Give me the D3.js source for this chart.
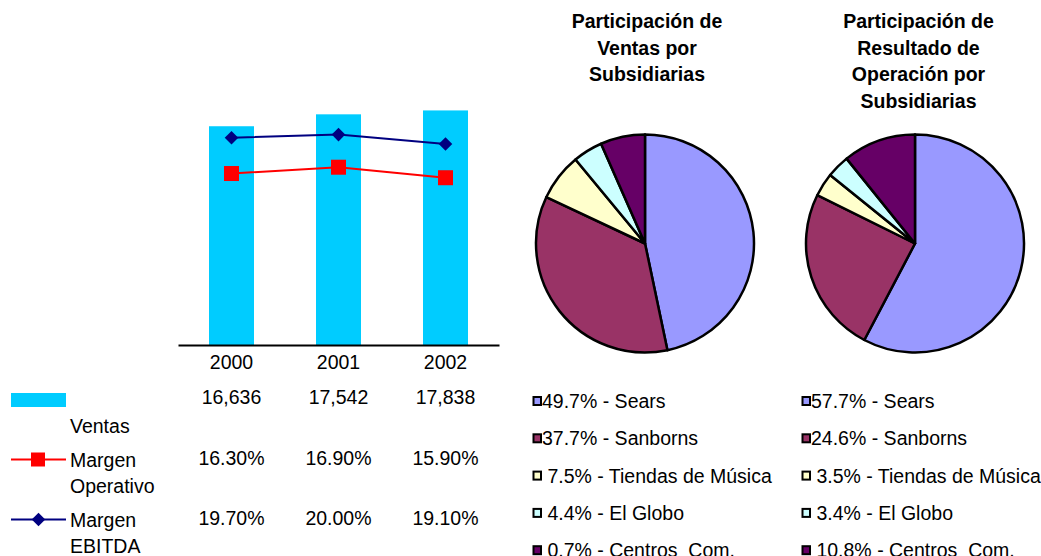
<!DOCTYPE html>
<html>
<head>
<meta charset="utf-8">
<script src="https://cdn.jsdelivr.net/npm/d3@7"></script>
<style>
  body { margin: 0; background: #fff; }
  svg text { font-family: "Liberation Sans", Arial, sans-serif; font-size: 19.5px; fill: #000; }
</style>
</head>
<body>
<div id="chart"></div>
<script>
// combo chart data
var years = ["2000", "2001", "2002"];
var ventas = [16636, 17542, 17838];
var margenOperativo = [16.3, 16.9, 15.9];
var margenEbitda = [19.7, 20.0, 19.1];
var ventasText = ["16,636", "17,542", "17,838"];
var operText = ["16.30%", "16.90%", "15.90%"];
var ebitdaText = ["19.70%", "20.00%", "19.10%"];

// pies
var subsidiarias = ["Sears", "Sanborns", "Tiendas de Música", "El Globo", "Centros  Com."];
var pieColors = ["#9999ff", "#993366", "#ffffcc", "#ccffff", "#660066"];
var ventasSlices = [46.7, 35.3, 7.0, 4.4, 6.6];      // as drawn
var ventasPct = ["49.7%", "37.7%", " 7.5%", " 4.4%", " 0.7%"];
var operSlices = [57.7, 24.6, 3.5, 3.4, 10.8];
var operPct = ["57.7%", "24.6%", " 3.5%", " 3.4%", " 10.8%"];

var svg = d3.select("#chart").append("svg")
    .attr("width", 1041)
    .attr("height", 556);

var x = d3.scaleBand().domain(years).range([178, 499]);
var cx = function(d) { return x(d) + x.bandwidth() / 2; };
var yBar = d3.scaleLinear().domain([0, 20000]).range([345, 82]);
var yPct = d3.scaleLinear().domain([0, 25]).range([345, 82]);
var barW = 45;

svg.append("g").selectAll("rect")
    .data(years)
    .enter().append("rect")
    .attr("x", function(d) { return cx(d) - barW / 2; })
    .attr("width", barW)
    .attr("y", function(d, i) { return yBar(ventas[i]); })
    .attr("height", function(d, i) { return yBar(0) - yBar(ventas[i]); })
    .attr("fill", "#00ccff");

var xAxis = d3.axisBottom(x).tickSize(0).tickSizeOuter(0);
var gx = svg.append("g")
    .attr("transform", "translate(0,345)")
    .call(xAxis);
gx.select(".domain").attr("stroke", "#000").attr("stroke-width", 2);
gx.selectAll("text")
    .attr("y", 24).attr("dy", 0)
    .style("font-size", "19.5px")
    .style("font-family", "'Liberation Sans', Arial, sans-serif")
    .attr("fill", "#000");

var line = d3.line()
    .x(function(d, i) { return cx(years[i]); })
    .y(function(d) { return yPct(d); });

svg.append("path").datum(margenOperativo)
    .attr("d", line).attr("fill", "none")
    .attr("stroke", "#ff0000").attr("stroke-width", 2);
svg.append("path").datum(margenEbitda)
    .attr("d", line).attr("fill", "none")
    .attr("stroke", "#000080").attr("stroke-width", 2);

var sq = 15;
svg.append("g").selectAll("rect")
    .data(margenOperativo)
    .enter().append("rect")
    .attr("x", function(d, i) { return cx(years[i]) - sq / 2; })
    .attr("y", function(d) { return yPct(d) - sq / 2; })
    .attr("width", sq).attr("height", sq)
    .attr("fill", "#ff0000");

var diamond = d3.symbol().type(d3.symbolSquare).size(92);
svg.append("g").selectAll("path")
    .data(margenEbitda)
    .enter().append("path")
    .attr("d", diamond)
    .attr("transform", function(d, i) {
        return "translate(" + cx(years[i]) + "," + yPct(d) + ") rotate(45)";
    })
    .attr("fill", "#000080");

// data table under the bars
var table = svg.append("g");
function rowValues(vals, base) {
    table.selectAll(null)
        .data(vals)
        .enter().append("text")
        .attr("x", function(d, i) { return cx(years[i]); })
        .attr("y", base)
        .attr("text-anchor", "middle")
        .text(function(d) { return d; });
}
rowValues(ventasText, 404);
rowValues(operText, 465);
rowValues(ebitdaText, 525);

table.append("rect").attr("x", 11).attr("y", 393).attr("width", 55).attr("height", 14).attr("fill", "#00ccff");
table.append("text").attr("x", 70).attr("y", 433).text("Ventas");

table.append("line").attr("x1", 11).attr("x2", 66).attr("y1", 459.5).attr("y2", 459.5)
    .attr("stroke", "#ff0000").attr("stroke-width", 2);
table.append("rect").attr("x", 31).attr("y", 452.5).attr("width", 14).attr("height", 14).attr("fill", "#ff0000");
table.append("text").attr("x", 70).attr("y", 467).text("Margen");
table.append("text").attr("x", 70).attr("y", 493).text("Operativo");

table.append("line").attr("x1", 11).attr("x2", 66).attr("y1", 519.5).attr("y2", 519.5)
    .attr("stroke", "#000080").attr("stroke-width", 2);
table.append("path").attr("d", diamond)
    .attr("transform", "translate(38.5,519.5) rotate(45)")
    .attr("fill", "#000080");
table.append("text").attr("x", 70).attr("y", 527).text("Margen");
table.append("text").attr("x", 70).attr("y", 553).text("EBITDA");

// pies
var pie = d3.pie().sort(null).value(function(d) { return d; });
var arc = d3.arc().innerRadius(0).outerRadius(109);

function drawPie(values, px, py, title, tx, pct, lx) {
    var g = svg.append("g").attr("transform", "translate(" + px + "," + py + ")");
    g.selectAll("path")
        .data(pie(values))
        .enter().append("path")
        .attr("d", arc)
        .attr("fill", function(d, i) { return pieColors[i]; })
        .attr("stroke", "#000")
        .attr("stroke-width", 2.5)
        .attr("stroke-linejoin", "round");

    svg.append("g").selectAll("text")
        .data(title)
        .enter().append("text")
        .attr("x", tx)
        .attr("y", function(d, i) { return 28 + i * 26.7; })
        .attr("text-anchor", "middle")
        .style("font-weight", "bold")
        .text(function(d) { return d; });

    var leg = svg.append("g").selectAll("g")
        .data(subsidiarias)
        .enter().append("g")
        .attr("transform", function(d, i) { return "translate(" + lx + "," + (408 + i * 37.3) + ")"; });
    leg.append("rect")
        .attr("x", 1.5).attr("y", -11)
        .attr("width", 7.5).attr("height", 8)
        .attr("fill", function(d, i) { return pieColors[i]; })
        .attr("stroke", "#000").attr("stroke-width", 2);
    leg.append("text")
        .attr("x", 10)
        .attr("xml:space", "preserve")
        .style("white-space", "pre")
        .text(function(d, i) { return pct[i] + " - " + d; });
}

drawPie(ventasSlices, 645, 243.5,
    ["Participación de", "Ventas por", "Subsidiarias"], 647, ventasPct, 532);
drawPie(operSlices, 915, 243.5,
    ["Participación de", "Resultado de", "Operación por", "Subsidiarias"], 918.5, operPct, 801);
</script>
</body>
</html>
